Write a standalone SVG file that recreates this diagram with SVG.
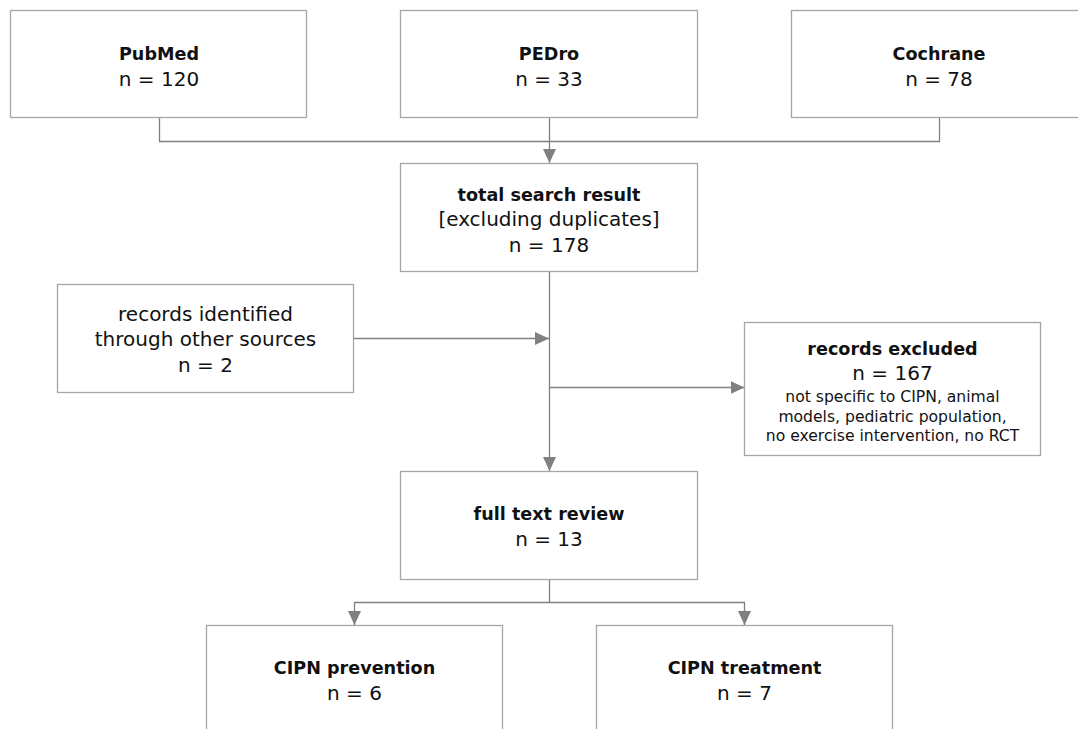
<svg xmlns="http://www.w3.org/2000/svg" width="1078" height="729" viewBox="0 0 1078 729">
<style>
.box{fill:#ffffff;stroke:#a6a6a6;stroke-width:1.3}
.conn{fill:none;stroke:#808080;stroke-width:1.3}
text{font-family:"DejaVu Sans","Liberation Sans",sans-serif;fill:#111;text-anchor:middle}
.b{font-weight:bold;font-size:17.6px}
.r{font-size:20px}
.s{font-size:15.6px}
</style>
<defs>
<marker id="arr" viewBox="0 0 14 13" refX="14" refY="6.5" markerWidth="14" markerHeight="13" markerUnits="userSpaceOnUse" orient="auto">
<path d="M0,0 L14,6.5 L0,13 z" fill="#808080"/>
</marker>
</defs>
<rect width="1078" height="729" fill="#ffffff"/>
<g id="connectors">
<polyline class="conn" points="159.5,117.5 159.5,141.5 939.5,141.5 939.5,117.5"/>
<line class="conn" x1="549.5" y1="117.5" x2="549.5" y2="163" marker-end="url(#arr)"/>
<line class="conn" x1="549.5" y1="271.5" x2="549.5" y2="471" marker-end="url(#arr)"/>
<line class="conn" x1="354" y1="338.5" x2="549" y2="338.5" marker-end="url(#arr)"/>
<line class="conn" x1="549.5" y1="387.5" x2="744.5" y2="387.5" marker-end="url(#arr)"/>
<polyline class="conn" points="549.5,579 549.5,602.5"/>
<polyline class="conn" points="354.5,625 354.5,602.5 744.5,602.5 744.5,625"/>
<line class="conn" x1="354.5" y1="610" x2="354.5" y2="625" marker-end="url(#arr)"/>
<line class="conn" x1="744.5" y1="610" x2="744.5" y2="625" marker-end="url(#arr)"/>
</g>
<g id="pubmed">
<rect class="box" x="10.5" y="10.5" width="296" height="107"/>
<text class="b" x="159" y="60">PubMed</text>
<text class="r" x="159" y="86">n = 120</text>
</g>
<g id="pedro">
<rect class="box" x="400.5" y="10.5" width="297" height="107"/>
<text class="b" x="549" y="60">PEDro</text>
<text class="r" x="549" y="86">n = 33</text>
</g>
<g id="cochrane">
<rect class="box" x="791.5" y="10.5" width="296" height="107"/>
<text class="b" x="939" y="60">Cochrane</text>
<text class="r" x="939" y="86">n = 78</text>
</g>
<g id="total">
<rect class="box" x="400.5" y="163.5" width="297" height="108"/>
<text class="b" x="549" y="201">total search result</text>
<text class="r" x="549" y="226">[excluding duplicates]</text>
<text class="r" x="549" y="252">n = 178</text>
</g>
<g id="other">
<rect class="box" x="57.5" y="284.5" width="296" height="108"/>
<text class="r" x="205.5" y="321">records identified</text>
<text class="r" x="205.5" y="345.5">through other sources</text>
<text class="r" x="205.5" y="372">n = 2</text>
</g>
<g id="excluded">
<rect class="box" x="744.5" y="322.5" width="296" height="133"/>
<text class="b" x="892.5" y="355">records excluded</text>
<text class="r" x="892.5" y="380">n = 167</text>
<text class="s" x="892.5" y="402">not specific to CIPN, animal</text>
<text class="s" x="892.5" y="421.5">models, pediatric population,</text>
<text class="s" x="892.5" y="440.5">no exercise intervention, no RCT</text>
</g>
<g id="fulltext">
<rect class="box" x="400.5" y="471.5" width="297" height="108"/>
<text class="b" x="549" y="520">full text review</text>
<text class="r" x="549" y="546">n = 13</text>
</g>
<g id="prevention">
<rect class="box" x="206.5" y="625.5" width="296" height="108"/>
<text class="b" x="354.5" y="674">CIPN prevention</text>
<text class="r" x="354.5" y="700">n = 6</text>
</g>
<g id="treatment">
<rect class="box" x="596.5" y="625.5" width="296" height="108"/>
<text class="b" x="744.5" y="674">CIPN treatment</text>
<text class="r" x="744.5" y="700">n = 7</text>
</g>
</svg>
